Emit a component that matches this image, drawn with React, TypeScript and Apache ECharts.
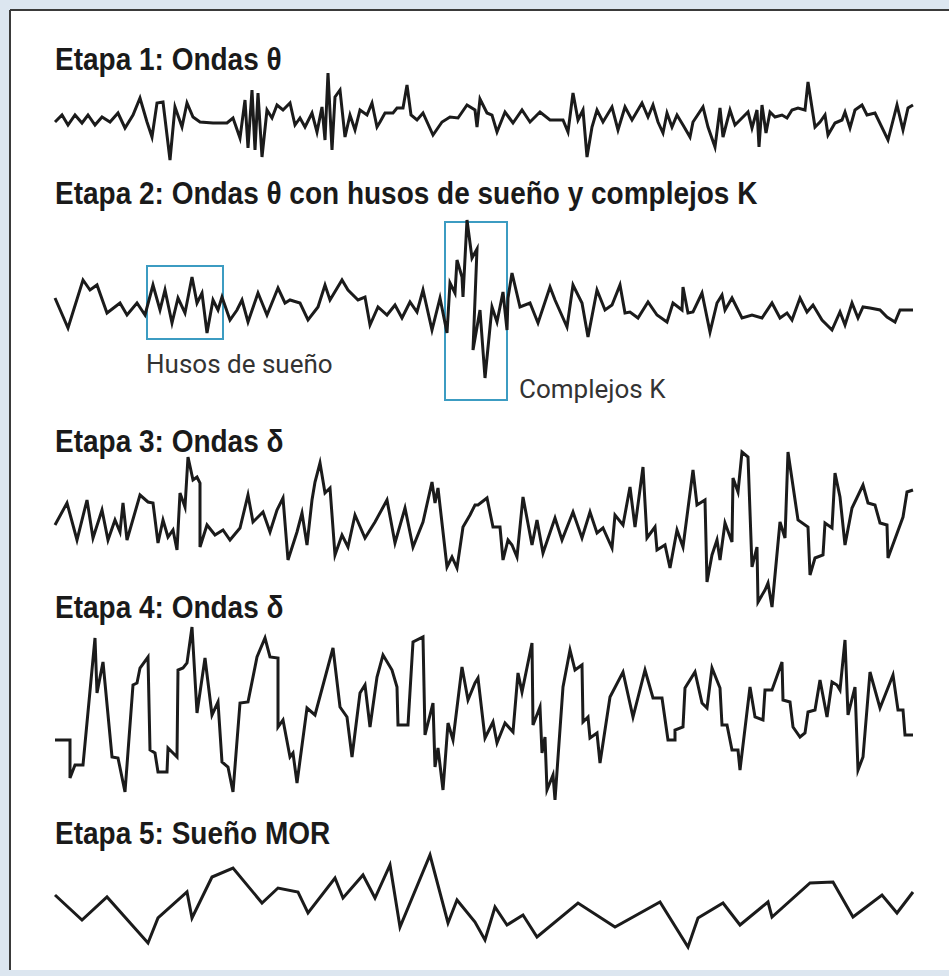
import React, { useEffect, useRef } from "react";
import * as echarts from "echarts";

// Time (arbitrary units along the trace) and amplitude (arbitrary µV)
const stage1Time = [0,7,13,20,27,33,40,47,55,63,70,78,85,92,97,102,108,115,120,127,132,138,145,158,172,178,185,190,193,197,200,203,207,212,217,222,228,235,240,245,250,257,262,267,270,273,277,280,285,290,295,300,305,312,317,322,325,330,338,342,348,352,356,362,368,378,387,395,403,412,420,422,425,432,437,442,450,458,467,475,485,495,508,513,518,523,528,532,537,542,548,557,563,570,577,587,593,598,603,608,612,617,622,628,635,638,648,653,660,665,668,675,680,687,693,697,702,704,707,711,715,720,727,732,737,743,750,753,760,765,770,773,780,787,790,795,800,807,812,820,833,842,848,853,858];
const stage1Amp = [-7,0,-10,0,-8,0,-10,-2,-7,2,-13,0,17,-7,-22,12,13,-45,8,-12,12,-2,-7,-8,-8,-3,-23,15,-33,25,-35,22,-42,5,-3,10,5,12,-10,-3,-12,2,-17,8,-25,42,-35,18,25,-22,0,-15,5,0,12,-12,-7,2,2,7,7,30,0,-5,2,-20,-7,-2,-3,10,5,-12,16,2,0,-17,3,-8,5,-7,3,-5,-5,-17,22,-5,5,-42,-12,5,-7,8,-15,8,-5,12,-2,10,-7,-18,2,-12,0,-10,-22,-7,8,-12,-32,7,-22,5,-10,-3,3,-13,5,-32,10,-18,3,-2,0,-3,5,7,5,33,-12,-7,0,-20,-8,-5,3,-13,5,10,0,2,-25,10,-15,7,10];

const stage2Time = [0,13,28,35,42,52,65,72,82,90,98,105,110,117,123,130,137,142,147,152,158,163,167,175,182,187,193,203,212,223,230,235,245,253,263,270,275,287,293,303,310,315,323,332,340,347,355,362,368,377,385,392,395,400,402,407,408,412,417,422,418,425,430,437,442,448,452,453,457,465,475,483,495,500,512,518,527,533,542,550,557,565,570,575,583,593,602,612,618,627,628,633,638,647,655,662,667,670,677,687,697,707,717,725,732,737,745,752,758,767,777,785,790,797,803,808,815,825,832,840,845,858];
const stage2Amp = [2,-28,20,10,15,-13,-3,-15,-3,-15,15,-10,10,-23,2,-13,23,-3,7,-33,0,-10,3,-20,-10,0,-22,7,-15,12,-3,0,-3,-20,-7,15,0,20,10,0,3,-25,-7,-15,-5,-18,-2,-12,10,-30,2,-33,17,7,40,23,3,80,42,51,-50,-10,-78,-7,-22,8,-30,2,27,-7,-3,-23,13,0,-27,15,-3,-37,10,-10,-5,15,-13,-12,-18,-2,-15,-22,-3,-10,13,-13,-12,7,-32,-3,5,-10,2,-18,-15,-18,-3,-18,-13,-20,2,-12,-5,-20,-30,-12,-25,-3,-18,-7,-8,-10,-17,-22,-10,-10];

const stage3Time = [0,12,22,32,38,47,53,60,65,68,72,85,93,98,103,108,113,118,122,125,130,133,138,142,145,145,152,160,168,175,185,193,198,208,215,222,228,233,242,247,252,257,260,265,270,275,280,287,293,300,310,320,332,340,350,358,368,377,380,383,392,397,402,408,415,420,423,432,438,445,448,453,457,462,468,477,482,488,500,507,518,527,535,542,548,557,560,568,575,580,588,592,600,602,610,615,622,628,638,642,650,652,657,662,665,670,677,678,683,687,693,697,702,703,710,713,717,725,730,733,743,753,755,760,768,770,777,780,785,790,797,808,813,820,825,832,833,848,852,858];
const stage3Amp = [5,27,-10,30,-8,20,-10,10,-2,27,-10,35,28,27,-13,10,-7,0,-20,37,23,73,50,53,47,-17,5,-5,0,-10,2,35,8,18,-2,20,32,-30,-2,17,-15,30,48,67,37,42,-25,-5,-17,15,-8,8,30,-13,22,-17,8,48,27,42,-37,-27,-38,3,15,25,25,32,3,3,-30,-10,-15,-27,33,-15,10,-23,12,-10,18,-8,18,-3,2,-18,15,5,43,3,63,-8,3,-20,-15,-38,0,-17,60,25,30,-52,-25,-10,-30,7,-12,52,38,78,73,-37,-17,-72,-60,-53,-77,8,-8,78,10,3,-45,-28,-25,7,2,57,33,-15,22,45,27,25,7,5,-28,13,38,40];

const stage4Time = [0,15,15,20,28,40,42,48,57,63,70,78,82,85,93,95,100,103,112,113,122,123,128,132,137,142,150,157,163,167,173,178,185,193,202,210,215,223,223,228,235,238,242,252,260,278,285,292,297,305,310,315,322,328,337,342,343,353,358,368,370,378,380,383,388,393,398,407,413,420,423,430,438,442,450,458,463,467,477,478,485,487,490,492,498,500,508,515,520,527,528,533,535,542,545,555,568,578,590,598,607,613,620,620,628,630,640,647,652,657,665,667,672,677,683,685,695,700,708,710,717,727,728,735,738,745,750,753,760,765,772,777,782,785,790,793,800,803,808,815,825,838,843,848,850,858];
const stage4Amp = [-25,-25,-63,-50,-50,77,22,53,-42,-43,-77,30,32,47,58,-35,-38,-57,-57,-33,-42,45,47,52,88,2,57,0,13,-47,-52,-77,12,13,58,77,58,57,-12,-5,-42,-38,-68,7,0,67,8,-2,-42,22,30,-12,38,60,45,28,-10,-10,73,78,-20,12,-52,-33,-75,-8,-25,48,15,32,37,-23,-7,-28,-8,-17,42,23,72,-10,8,-38,-22,-75,-60,-85,28,65,45,50,-7,-2,-23,-18,-48,18,43,-2,45,17,17,-25,-25,-15,-12,27,43,12,7,47,27,-10,-10,-35,-35,-55,28,-2,-5,25,25,53,15,13,-12,-22,-18,3,5,35,-2,33,30,25,75,0,28,-55,-42,43,7,40,5,5,-20,-20];

const stage5Time = [0,27,52,93,103,132,137,157,178,207,223,243,253,280,288,308,320,335,345,375,393,402,420,430,440,452,468,482,523,560,605,633,643,668,685,713,717,755,778,798,827,842,858];
const stage5Amp = [5,-20,3,-43,-18,8,-18,23,32,-3,12,8,-13,22,2,25,2,35,-27,45,-23,0,-22,-40,-7,-25,-15,-37,-3,-27,-2,-47,-18,-3,-25,-2,-17,17,18,-17,5,-13,8];

const stageTitles = [
  "Etapa 1: Ondas θ",
  "Etapa 2: Ondas θ con husos de sueño y complejos K",
  "Etapa 3: Ondas δ",
  "Etapa 4: Ondas δ",
  "Etapa 5: Sueño MOR",
];

// Annotated windows on stage 2: [startTime, endTime, highAmp, lowAmp]
const spindleWindow = [92, 168, 34, -39];
const kComplexWindow = [390, 452, 78, -100];
const spindleLabel = "Husos de sueño";
const kComplexLabel = "Complejos K";

const stageTimes = [stage1Time, stage2Time, stage3Time, stage4Time, stage5Time];
const stageAmps = [stage1Amp, stage2Amp, stage3Amp, stage4Amp, stage5Amp];

// layout (pixels) and amplitude range per panel
const panels = [
  { top: 70, height: 90, range: 45, titleY: 59 },
  { top: 200, height: 200, range: 100, titleY: 193 },
  { top: 450, height: 160, range: 80, titleY: 441 },
  { top: 625, height: 180, range: 90, titleY: 607 },
  { top: 850, height: 100, range: 50, titleY: 833 },
];

const TITLE_FONT = "'Liberation Sans', Arial, sans-serif";

export default function App() {
  const ref = useRef<HTMLDivElement>(null);
  useEffect(() => {
    if (!ref.current) return;
    const chart = echarts.init(ref.current, undefined, { renderer: "svg" });
    const grids = panels.map((p) => ({ left: 55, width: 858, top: p.top, height: p.height }));
    const xAxes = panels.map((_, i) => ({ type: "value", gridIndex: i, min: 0, max: 858, show: false }));
    const yAxes = panels.map((p, i) => ({ type: "value", gridIndex: i, min: -p.range, max: p.range, show: false }));
    const boxStyle = { color: "rgba(0,0,0,0)", borderColor: "#3c9cc2", borderWidth: 2 };
    const series: any[] = stageTimes.map((times, i) => ({
      type: "line",
      xAxisIndex: i,
      yAxisIndex: i,
      symbol: "none",
      clip: false,
      lineStyle: { color: "#1b1b1b", width: 3, join: "miter", miterLimit: 5 },
      data: times.map((t, k) => [t, stageAmps[i][k]]),
      z: 3,
    }));
    series[1].markArea = {
      silent: true,
      itemStyle: boxStyle,
      label: {
        show: true,
        color: "#333",
        fontFamily: "Roboto, sans-serif",
        fontSize: 26,
        align: "left",
      },
      data: [
        [
          {
            name: spindleLabel,
            xAxis: spindleWindow[0],
            yAxis: spindleWindow[2],
            label: { position: [0, "100%"], verticalAlign: "top", offset: [0, 11] },
          },
          { xAxis: spindleWindow[1], yAxis: spindleWindow[3] },
        ],
        [
          {
            name: kComplexLabel,
            xAxis: kComplexWindow[0],
            yAxis: kComplexWindow[2],
            label: { position: ["100%", "100%"], verticalAlign: "bottom", offset: [11, 1] },
          },
          { xAxis: kComplexWindow[1], yAxis: kComplexWindow[3] },
        ],
      ],
    };
    const graphic: any[] = [
      { type: "rect", shape: { x: 10, y: 10, width: 945, height: 960 }, style: { fill: "#ffffff" }, z: 0, silent: true },
      { type: "line", shape: { x1: 10, y1: 10, x2: 949, y2: 10 }, style: { stroke: "#3a3a3a", lineWidth: 2 }, z: 1, silent: true },
      { type: "line", shape: { x1: 10, y1: 10, x2: 10, y2: 970 }, style: { stroke: "#3a3a3a", lineWidth: 2 }, z: 1, silent: true },
      ...stageTitles.map((t, i) => ({
        type: "text",
        x: 55,
        y: panels[i].titleY,
        scaleX: 0.875,
        z: 5,
        silent: true,
        style: {
          text: t,
          fill: "#1a1a1a",
          font: `bold 32px ${TITLE_FONT}`,
          textVerticalAlign: "middle",
          verticalAlign: "middle",
        },
      })),
    ];
    chart.setOption({
      animation: false,
      backgroundColor: "#dce6f0",
      grid: grids,
      xAxis: xAxes,
      yAxis: yAxes,
      series,
      graphic,
    });
    return () => chart.dispose();
  }, []);
  return <div ref={ref} style={{ position: "absolute", left: 0, top: 0, width: 949, height: 976 }} />;
}
